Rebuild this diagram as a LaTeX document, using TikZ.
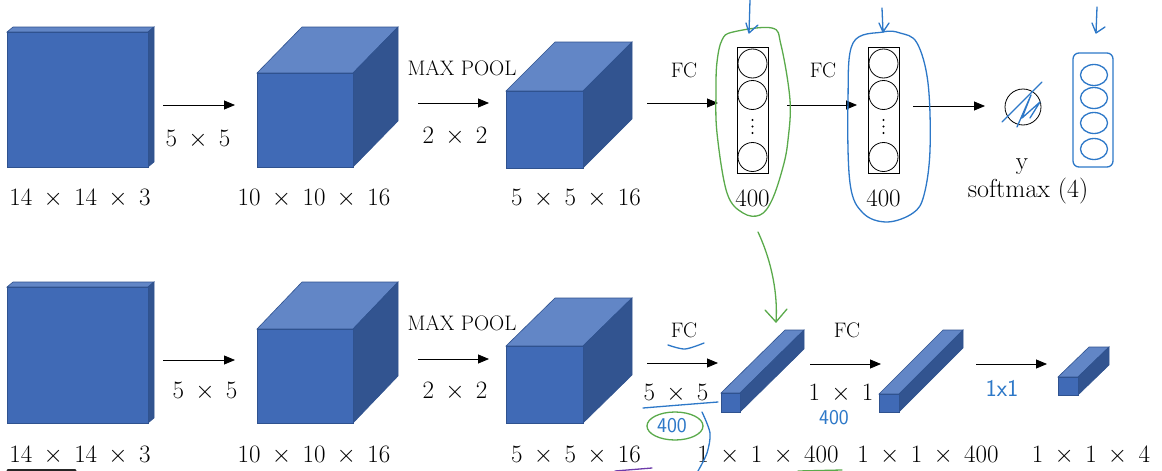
\documentclass[tikz,border=0pt]{standalone}
\usetikzlibrary{arrows.meta}
\definecolor{frontc}{RGB}{64,106,182}
\definecolor{topc}{RGB}{98,134,198}
\definecolor{sidec}{RGB}{50,84,144}
\definecolor{edgec}{RGB}{47,82,143}
\definecolor{inkblue}{RGB}{45,120,200}
\definecolor{inkgreen}{RGB}{90,170,75}
\definecolor{inkpurple}{RGB}{110,60,170}
\newcommand{\tms}{\hspace{0.45em}$\times$\hspace{0.45em}}
% front top-left (#1,#2), front bottom-right (#3,#4), depth offset right #5, up #6
\newcommand{\blockbox}[6]{%
  \filldraw[topc,draw=edgec,line width=0.6] (#1,#2) -- (#1+#5,#2-#6) -- (#3+#5,#2-#6) -- (#3,#2) -- cycle;
  \filldraw[sidec,draw=edgec,line width=0.6] (#3,#2) -- (#3+#5,#2-#6) -- (#3+#5,#4-#6) -- (#3,#4) -- cycle;
  \filldraw[frontc,draw=edgec,line width=0.6] (#1,#2) rectangle (#3,#4);
}
\tikzset{
  lbl/.style={font=\fontsize{25}{28}\selectfont, anchor=base, inner sep=0pt},
  capt/.style={font=\fontsize{21}{24}\selectfont, anchor=base, inner sep=0pt},
  arr/.style={line width=0.8, -{Triangle[length=11,width=9]}},
  colbox/.style={draw, line width=0.8, minimum width=31, minimum height=126, inner sep=0pt},
  neuron/.style={draw, circle, line width=0.8, minimum size=29, inner sep=0pt},
  ink/.style={line width=1.3, line cap=round, line join=round},
  hand/.style={font=\sffamily\fontsize{21}{23}\selectfont, text=inkblue, inner sep=0pt},
}
\begin{document}
\begin{tikzpicture}[x=1pt,y=-1pt]
\useasboundingbox (0,0) rectangle (1162,471);
\fill[white] (0,0) rectangle (1162,471);

% ---------------- top row ----------------
\blockbox{7}{32}{148}{167}{6}{5}
\blockbox{257}{73}{353}{167}{45}{46}
\blockbox{506}{91}{583}{168}{49}{49}

\node[lbl] (t1) at (80,205) {14\tms 14\tms 3};
\node[lbl] (t2) at (314,205) {10\tms 10\tms 16};
\node[lbl] (t3) at (576,205) {5\tms 5\tms 16};
\node[lbl] (tk1) at (198,146) {5\tms 5};
\node[capt] (tmp) at (462,75) {MAX POOL};
\node[lbl] (tk2) at (455,143) {2\tms 2};
\node[capt] (tfc1) at (684,77) {FC};
\node[capt] (tfc2) at (823,77) {FC};

\coordinate (ta1s) at (163,105); \coordinate (ta1e) at (235,105);
\coordinate (ta2s) at (418,103); \coordinate (ta2e) at (489,103);
\coordinate (ta3s) at (647,103); \coordinate (ta3e) at (718,103);
\coordinate (ta4s) at (787,105); \coordinate (ta4e) at (857,105);
\coordinate (ta5s) at (913,106); \coordinate (ta5e) at (985,106);
\draw[arr] (ta1s) -- (ta1e);
\draw[arr] (ta2s) -- (ta2e);
\draw[arr] (ta3s) -- (ta3e);
\draw[arr] (ta4s) -- (ta4e);
\draw[arr] (ta5s) -- (ta5e);

% FC columns
\node[colbox] (col1) at (752.5,110) {};
\node[neuron] (n11) at (752.5,63.5) {};
\node[neuron] (n12) at (752.5,95) {};
\node[neuron] (n13) at (752.5,157) {};
\foreach \yy in {120,126.5,133} \fill (752.5,\yy) circle (1.2);
\node[lbl] (l400a) at (752.5,206) {400};

\node[colbox] (col2) at (883.5,110) {};
\node[neuron] (n21) at (883.5,63.5) {};
\node[neuron] (n22) at (883.5,95) {};
\node[neuron] (n23) at (883.5,157) {};
\foreach \yy in {120,126.5,133} \fill (883.5,\yy) circle (1.2);
\node[lbl] (l400b) at (883.5,206) {400};

% output
\node[neuron, minimum size=36] (yout) at (1023,107) {};
\node[lbl] (ylab) at (1022,169) {y};
\node[lbl, font=\fontsize{26}{28}\selectfont] (smax) at (1028,197) {softmax (4)};

% ---------------- bottom row ----------------
\blockbox{7}{287}{148}{423}{6}{5}
\blockbox{257}{329}{353}{423}{45}{47}
\blockbox{506}{346}{583}{423}{49}{48}
\blockbox{721}{393}{740}{412}{64}{63}
\blockbox{879}{394}{899}{412}{64}{64}
\blockbox{1058}{377}{1078}{395}{31}{30}

\node[lbl] (b1) at (80,462) {14\tms 14\tms 3};
\node[lbl] (b2) at (314,462) {10\tms 10\tms 16};
\node[lbl] (b3) at (576,462) {5\tms 5\tms 16};
\node[lbl] (b4) at (768,462) {1\tms 1\tms 400};
\node[lbl] (b5) at (928,462) {1\tms 1\tms 400};
\node[lbl] (b6) at (1091,462) {1\tms 1\tms 4};
\node[lbl] (bk1) at (205,398) {5\tms 5};
\node[capt] (bmp) at (462,330) {MAX POOL};
\node[lbl] (bk2) at (455,398) {2\tms 2};
\node[capt] (bfc1) at (684,337) {FC};
\node[lbl] (bk3) at (676,400) {5\tms 5};
\node[capt] (bfc2) at (847,337) {FC};
\node[lbl] (bk4) at (841,400) {1\tms 1};

\coordinate (ba1s) at (163,360); \coordinate (ba1e) at (235,360);
\coordinate (ba2s) at (418,359); \coordinate (ba2e) at (489,359);
\coordinate (ba3s) at (647,363); \coordinate (ba3e) at (718,363);
\coordinate (ba4s) at (810,364); \coordinate (ba4e) at (881,364);
\coordinate (ba5s) at (976,364); \coordinate (ba5e) at (1047,364);
\draw[arr] (ba1s) -- (ba1e);
\draw[arr] (ba2s) -- (ba2e);
\draw[arr] (ba3s) -- (ba3e);
\draw[arr] (ba4s) -- (ba4e);
\draw[arr] (ba5s) -- (ba5e);

% ---------------- hand annotations ----------------
% green loop around first 400 column
\draw[ink, inkgreen] plot[smooth cycle, tension=0.6] coordinates {
  (733,32) (772,28) (781,45) (790,100) (788,140) (783,167) (772,200) (760,215)
  (743,213) (727,193) (717,133) (716,90) (717,62) (722,40)};
% blue loop around second 400 column
\draw[ink, inkblue] plot[smooth cycle, tension=0.6] coordinates {
  (883,32) (900,33) (917,43) (928,83) (930,150) (924,195) (913,213) (887,222)
  (863,213) (850,183) (848,100) (853,43)};
% blue down arrows
\draw[ink, inkblue] (750,0) -- (749,33) (746,23) -- (749,33) -- (758,25);
\draw[ink, inkblue] (882,8) -- (883,32) (879,23) -- (883,32) -- (889,23);
\draw[ink, inkblue] (1097,7) -- (1096,33) (1092,23) -- (1096,33) -- (1105,27);
% scribble on y
\draw[ink, inkblue] (1002,122) -- (1042,82);
\draw[ink, inkblue] (1017,127) -- (1031,95) -- (1022,118) -- (1040,102) -- (1030,118);
% blue softmax column
\draw[ink, inkblue, rounded corners=6] (1073,53) rectangle (1113,167);
\foreach \yy in {75,98,123,149} \draw[ink, inkblue] (1094,\yy) ellipse (13.5 and 10.5);

% green arrow from top to bottom row
\draw[ink, inkgreen] (758,232) .. controls (772,262) and (778,295) .. (776,322);
\draw[ink, inkgreen] (765,310) -- (776,322) -- (787,309);

% blue underlines / marks in bottom row
\draw[ink, inkblue] plot[smooth] coordinates {(668,345) (685,349) (704,343)};
\draw[ink, inkblue] plot[smooth] coordinates {(643,408) (680,405) (718,402)};
\draw[ink, inkblue] plot[smooth] coordinates {(702,412) (710,433) (707,453) (698,471)};
\draw[ink, inkgreen] (675,426) ellipse (28 and 14);
\node[hand] (h400a) at (672,426) {400};
\node[hand] (h400b) at (834,418) {400};
\node[hand, font=\sffamily\fontsize{24}{26}\selectfont] (h11) at (1002,388) {1x1};
\draw[ink, inkpurple] (615,471) -- (652,468);
\draw[ink, inkgreen] (798,471) -- (842,470);
\draw[line width=3, line cap=round, black!85] (8,470) -- (75,470);
\end{tikzpicture}
\end{document}
